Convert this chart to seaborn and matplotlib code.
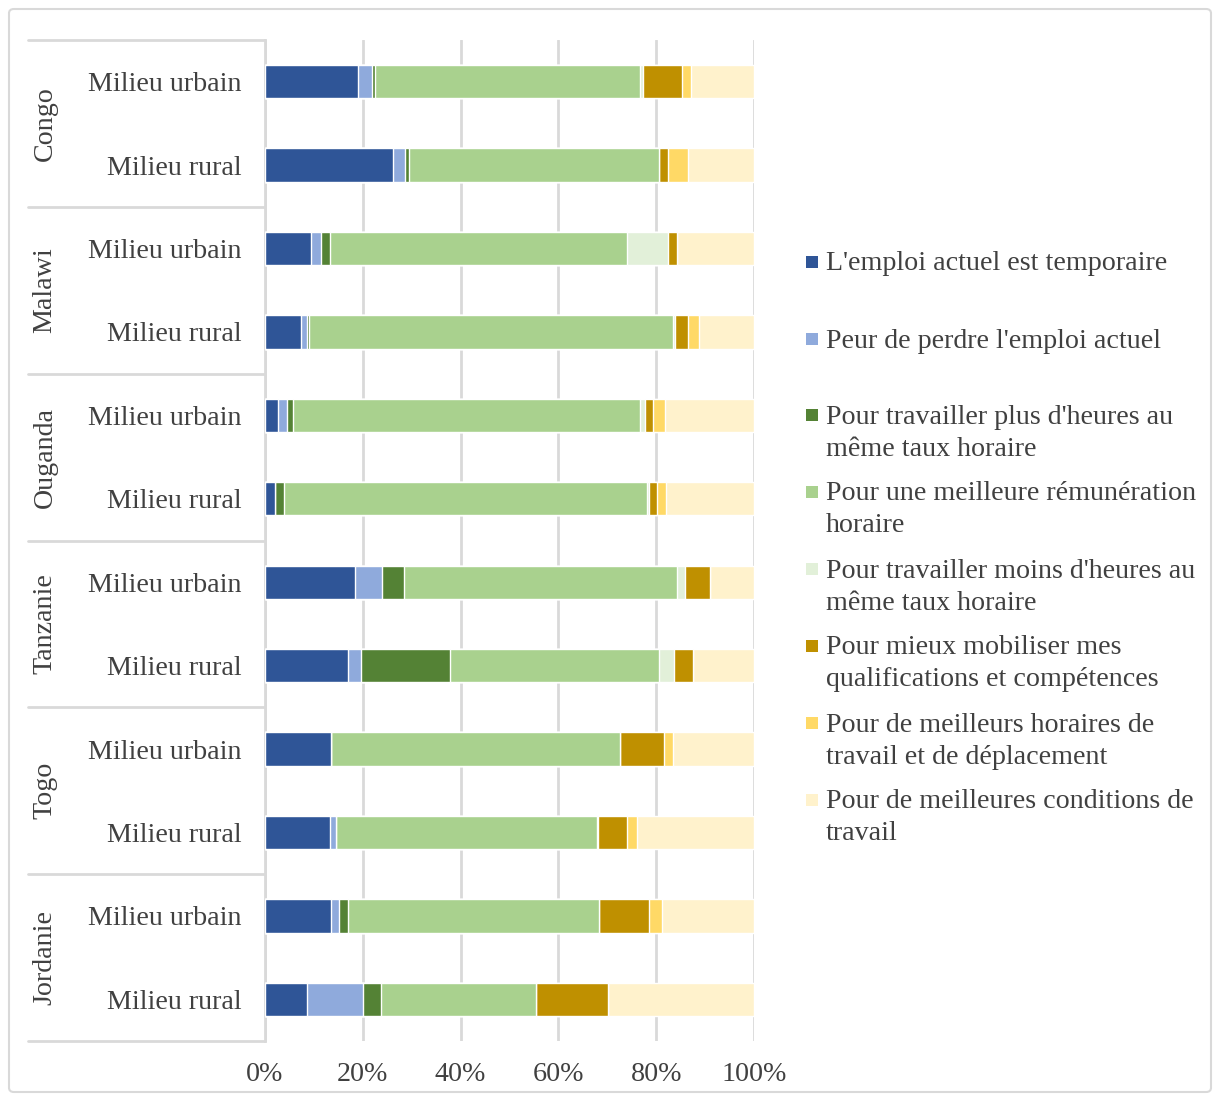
import numpy as np
import pandas as pd
import matplotlib
matplotlib.use('Agg')
import matplotlib.pyplot as plt
import matplotlib.transforms as mtransforms
from matplotlib.patches import FancyBboxPatch, Rectangle
import seaborn as sns

# Données (en %), lignes de haut en bas
pays = ['Congo', 'Malawi', 'Ouganda', 'Tanzanie', 'Togo', 'Jordanie']
milieux = ['Milieu urbain', 'Milieu rural']

temporaire = [19.0, 26.1, 9.5, 7.4, 2.7, 2.0, 18.5, 16.9, 13.5, 13.2, 13.5, 8.5]
peur = [2.9, 2.6, 1.9, 1.1, 1.9, 0.0, 5.5, 2.7, 0.0, 1.3, 1.6, 11.5]
plus_heures = [0.5, 0.8, 1.9, 0.5, 1.1, 1.8, 4.4, 18.3, 0.0, 0.0, 1.8, 3.7]
remuneration = [54.3, 51.1, 60.8, 74.5, 71.0, 74.3, 55.9, 42.7, 59.0, 53.3, 51.4, 31.7]
moins_heures = [0.7, 0.0, 8.3, 0.3, 1.0, 0.4, 1.5, 3.1, 0.1, 0.2, 0.0, 0.0]
qualifications = [7.9, 1.9, 1.9, 2.8, 1.6, 1.6, 5.3, 3.8, 9.0, 6.0, 10.2, 14.7]
horaires = [1.9, 4.1, 0.0, 2.2, 2.6, 2.0, 0.0, 0.0, 1.9, 2.1, 2.6, 0.0]
conditions = [12.8, 13.4, 15.7, 11.2, 18.1, 17.9, 8.9, 12.5, 16.5, 23.9, 18.9, 29.9]

series = [temporaire, peur, plus_heures, remuneration,
          moins_heures, qualifications, horaires, conditions]
legendes = ["L'emploi actuel est temporaire",
            "Peur de perdre l'emploi actuel",
            "Pour travailler plus d'heures au\nmême taux horaire",
            "Pour une meilleure rémunération\nhoraire",
            "Pour travailler moins d'heures au\nmême taux horaire",
            "Pour mieux mobiliser mes\nqualifications et compétences",
            "Pour de meilleurs horaires de\ntravail et de déplacement",
            "Pour de meilleures conditions de\ntravail"]
couleurs = ['#2F5597', '#8FAADC', '#548235', '#A9D18E',
            '#E2F0D9', '#BF9000', '#FFD966', '#FFF2CC']

lignes = [p + ' - ' + m for p in pays for m in milieux]
df = pd.DataFrame(np.array(series).T, index=lignes)
cumul = df.cumsum(axis=1)

W, H = 1219, 1097
fig = plt.figure(figsize=(W / 100, H / 100), dpi=100)
sns.set_style('white')
plt.rcParams['font.family'] = ['Liberation Serif', 'DejaVu Serif']
texte = '#404040'
gris = '#D9D9D9'
fs = 20.2

ax = fig.add_axes([265 / W, 1 - 1041 / H, 489 / W, 1001 / H])

# barres empilées : on dessine les cumuls du plus grand au plus petit
for i in reversed(range(len(series))):
    sns.barplot(x=cumul[i].values, y=lignes, color=couleurs[i], orient='h',
                width=0.4, saturation=1, ax=ax, zorder=3)

ax.set_xlim(0, 100)
ax.set_ylim(11.5, -0.5)
ax.set_xticks(range(0, 101, 20))
ax.set_xticklabels([f'{v}%' for v in range(0, 101, 20)], fontsize=fs, color=texte)
ax.set_yticks(range(12))
ax.set_yticklabels([m for p in pays for m in milieux], fontsize=fs, color=texte)
ax.tick_params(axis='y', length=0, pad=17)
ax.tick_params(axis='x', length=0, pad=15)
ax.set_xlabel('')
ax.set_ylabel('')
ax.set_axisbelow(True)
ax.xaxis.grid(True, color=gris, lw=2, zorder=0)
for s in ['top', 'right', 'bottom']:
    ax.spines[s].set_visible(False)
ax.spines['left'].set_color(gris)
ax.spines['left'].set_linewidth(2)

# séparateurs de groupes et noms de pays
trans = mtransforms.blended_transform_factory(fig.transFigure, ax.transData)
for k in range(len(pays) + 1):
    y = -0.5 + 2 * k
    ax.plot([28 / W, 265 / W], [y, y], color=gris, lw=2, transform=trans,
            clip_on=False)
for k, p in enumerate(pays):
    ax.text(45 / W, 2 * k + 0.5, p, rotation=90, ha='center', va='center',
            fontsize=fs, color=texte, transform=trans)

# légende
y_legende = [262, 339, 415, 492, 569, 646, 723, 800]
for lab, c, y0 in zip(legendes, couleurs, y_legende):
    fig.patches.append(Rectangle((806 / W, 1 - (y0 + 6) / H), 12 / W, 12 / H,
                                 facecolor=c, edgecolor='none',
                                 transform=fig.transFigure))
    for j, l in enumerate(lab.split('\n')):
        fig.text(826 / W, 1 - (y0 + 2 + 32 * j) / H, l, ha='left', va='center',
                 fontsize=fs, color=texte)

# cadre extérieur
fig.patches.append(FancyBboxPatch((9 / W, 1 - 1092 / H), 1202 / W, 1083 / H,
                                  boxstyle='round,pad=0,rounding_size=0.004',
                                  facecolor='none', edgecolor=gris, lw=1.5,
                                  transform=fig.transFigure))

fig.savefig('out.png', dpi=100, facecolor='white')
